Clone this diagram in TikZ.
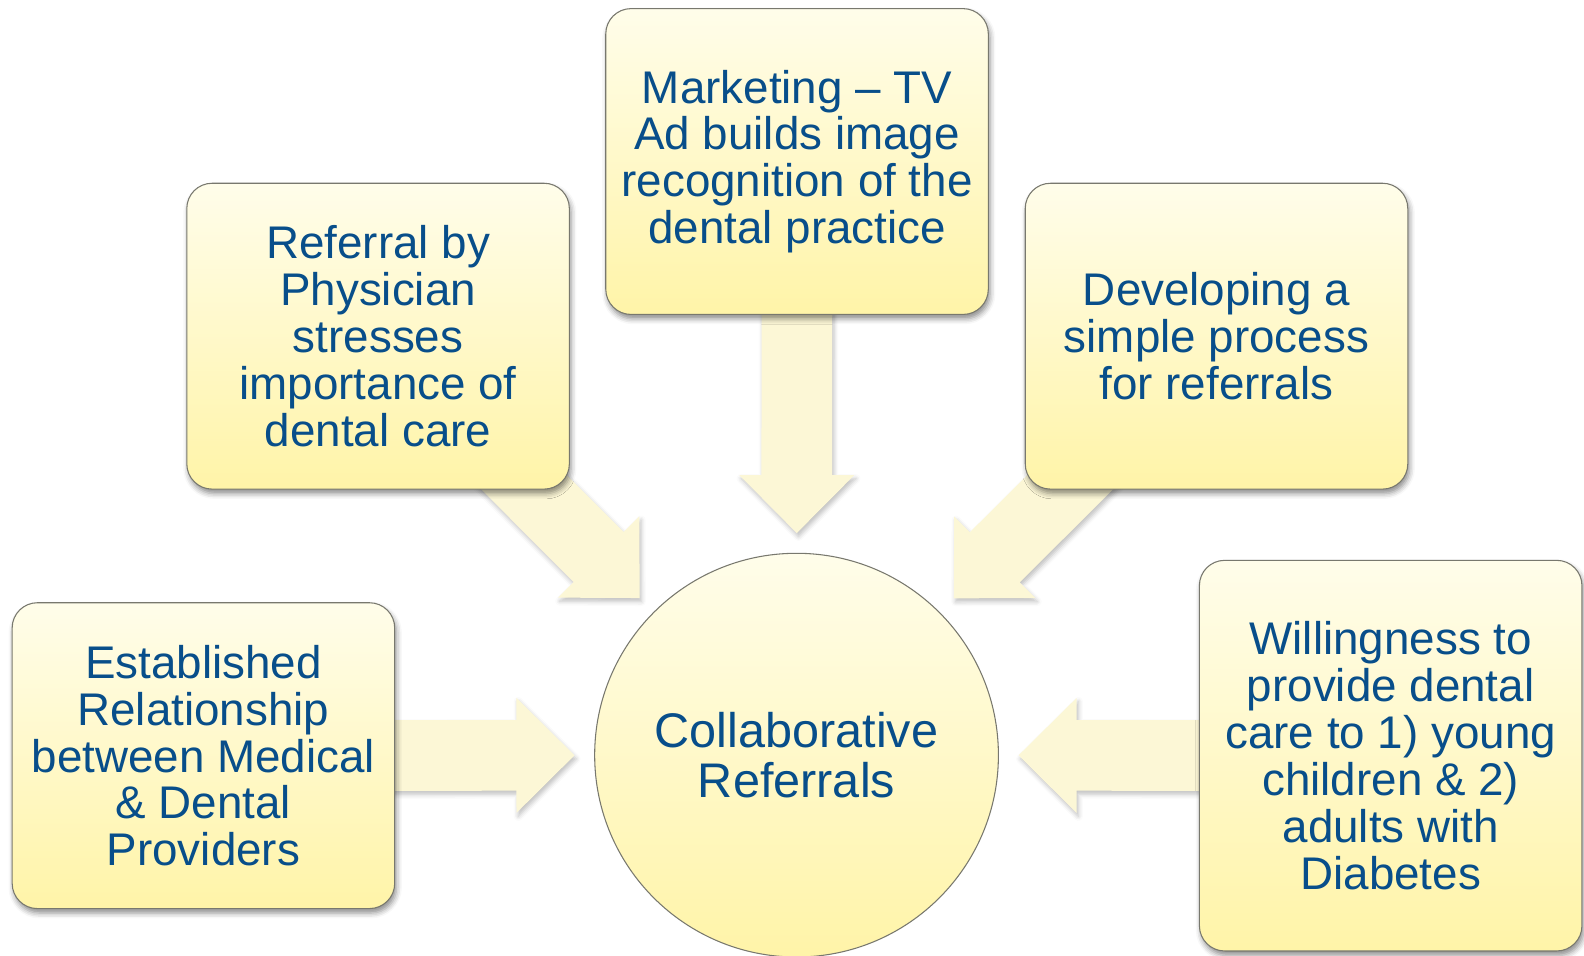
\documentclass[tikz,border=0pt]{standalone}
\usepackage{fontspec}
\setmainfont{Liberation Sans}
\usetikzlibrary{calc,backgrounds,shadows.blur}

\definecolor{inkblue}{RGB}{8,78,138}
\definecolor{paletop}{RGB}{255,253,234}
\definecolor{palebot}{RGB}{255,244,168}
\definecolor{flowfill}{RGB}{252,247,214}
\definecolor{rimgray}{RGB}{120,120,110}

\tikzset{
  idea/.style={draw=rimgray, line width=0.6pt, rounded corners=0.5cm,
    top color=paletop, bottom color=palebot,
    minimum width=7.58cm, minimum height=6.06cm, align=center,
    text=inkblue, font=\fontsize{25.8}{26.4}\selectfont,
    blur shadow={shadow xshift=1pt, shadow yshift=-2.5pt,
      shadow blur radius=3pt, shadow opacity=45}},
  hub/.style={circle, draw=rimgray, line width=0.6pt,
    top color=paletop, bottom color=palebot,
    minimum size=8cm, align=center,
    text=inkblue, font=\fontsize{27.4}{28.5}\selectfont},
  flow/.style={fill=flowfill,
    blur shadow={shadow xshift=1pt, shadow yshift=-2pt,
      shadow blur radius=2.5pt, shadow opacity=25}}
}

% block arrow from the centre of #1 towards node #2
\newcommand\fatarrow[2]{%
  \path (#1.center) coordinate (fa-s)
        ($(#2)!4.4cm!(#1)$) coordinate (fa-t)
        ($(fa-t)!1.15cm!(fa-s)$) coordinate (fa-h);
  \fill[flow] ($(fa-s)!0.7cm!90:(fa-t)$) -- ($(fa-h)!0.7cm!90:(fa-t)$)
    -- ($(fa-h)!1.14cm!90:(fa-t)$) -- (fa-t)
    -- ($(fa-h)!1.14cm!-90:(fa-t)$) -- ($(fa-h)!0.7cm!-90:(fa-t)$)
    -- ($(fa-s)!0.7cm!-90:(fa-t)$) -- cycle;}

\begin{document}
\begin{tikzpicture}[x=0.02cm, y=-0.02cm]
  \node[hub] (hub) at (789,748) {Collaborative\\Referrals};

  \node[idea] (mkt) at (789.5,160) {Marketing \textendash{} TV\\Ad builds image\\recognition of the\\dental practice};
  \node[idea] (phys) at (374.5,333) {Referral by\\Physician\\stresses\\importance of\\dental care};
  \node[idea] (proc) at (1205,333) {Developing a\\simple process\\for referrals};
  \node[idea] (rel) at (201.5,748.5) {Established\\Relationship\\between Medical\\\& Dental\\Providers};
  \node[idea, minimum height=7.74cm] (will) at (1377.5,748.5) {Willingness to\\provide dental\\care to 1) young\\children \& 2)\\adults with\\Diabetes};

  \begin{scope}[on background layer]
    \foreach \src in {mkt,phys,proc,rel,will}
      \fatarrow{\src}{hub};
  \end{scope}

  % fix the page to the reference frame
  \pgfresetboundingbox
  \useasboundingbox (0,0) rectangle (1569,946);
\end{tikzpicture}
\end{document}
